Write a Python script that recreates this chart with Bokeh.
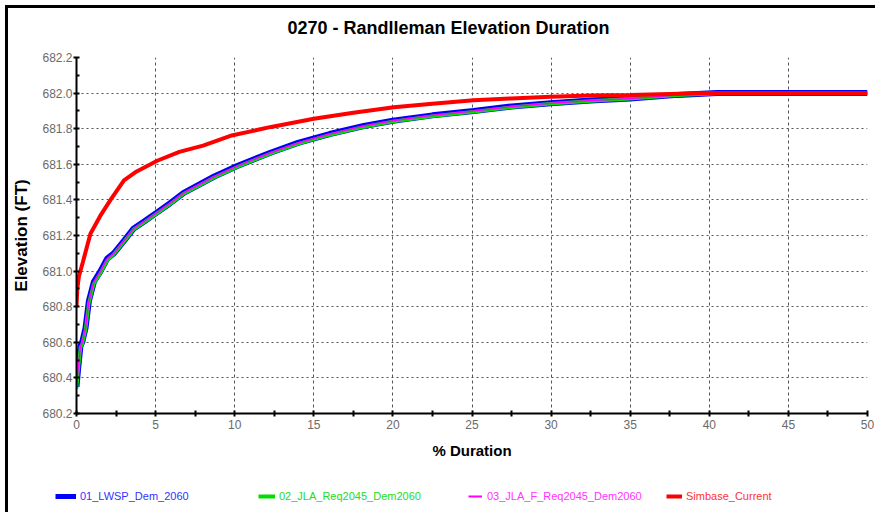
from bokeh.plotting import figure
from bokeh.models import (Range1d, FixedTicker, PrintfTickFormatter, Legend, LegendItem,
                          Title, Column)
from bokeh.embed import file_html
from bokeh.resources import INLINE

# ---- data ----
series_names = ["01_LWSP_Dem_2060", "02_JLA_Req2045_Dem2060",
                "03_JLA_F_Req2045_Dem2060", "Simbase_Current"]

dur_alt = [0, 0.1, 0.25, 0.36, 0.57, 0.78, 1.1, 1.52, 1.94, 2.36, 3.0, 3.62, 4.3,
           5.1, 5.9, 6.78, 8.68, 10.16, 12.26, 14.0, 16.0, 18.16, 20.0, 22.5, 25.1,
           27.5, 29.96, 32.5, 35.0, 38.0, 40.5, 45.0, 50.0]
elev_01 = [680.35, 680.45, 680.58, 680.60, 680.68, 680.83, 680.94, 681.00, 681.07,
           681.10, 681.17, 681.24, 681.28, 681.33, 681.38, 681.44, 681.53, 681.59,
           681.665, 681.72, 681.77, 681.815, 681.845, 681.875, 681.90, 681.925,
           681.943, 681.958, 681.97, 681.99, 682.0, 682.0, 682.0]
elev_02 = [680.34, 680.44, 680.57, 680.59, 680.67, 680.82, 680.93, 680.99, 681.06,
           681.095, 681.165, 681.235, 681.275, 681.325, 681.375, 681.435, 681.525,
           681.585, 681.66, 681.715, 681.765, 681.81, 681.84, 681.87, 681.895,
           681.92, 681.94, 681.955, 681.968, 681.988, 681.998, 681.998, 681.998]
elev_03 = [680.35, 680.45, 680.58, 680.60, 680.68, 680.83, 680.94, 681.00, 681.07,
           681.10, 681.17, 681.24, 681.28, 681.33, 681.38, 681.44, 681.53, 681.59,
           681.665, 681.72, 681.77, 681.815, 681.845, 681.875, 681.90, 681.925,
           681.943, 681.958, 681.97, 681.99, 682.0, 682.0, 682.0]

dur_base = [0, 0.05, 0.15, 0.4, 0.88, 1.5, 2.15, 3.0, 3.8, 4.68, 5.1, 6.5, 8.0, 9.73,
            12.3, 15.0, 17.5, 20.06, 22.5, 25.1, 27.5, 29.96, 32.5, 35.0, 37.5, 40.0,
            45.0, 50.0]
elev_base = [680.80, 680.90, 680.97, 681.05, 681.21, 681.31, 681.40, 681.51, 681.56,
             681.60, 681.62, 681.67, 681.705, 681.76, 681.81, 681.856, 681.89, 681.92,
             681.94, 681.96, 681.97, 681.98, 681.987, 681.99, 681.995, 682.0, 682.0,
             682.0]

y_ticks = [680.2, 680.4, 680.6, 680.8, 681.0, 681.2, 681.4, 681.6, 681.8, 682.0, 682.2]
y_minor = [680.3, 680.5, 680.7, 680.9, 681.1, 681.3, 681.5, 681.7, 681.9, 682.1]
x_ticks = [0, 5, 10, 15, 20, 25, 30, 35, 40, 45, 50]
x_minor = [2.5, 7.5, 12.5, 17.5, 22.5, 27.5, 32.5, 37.5, 42.5, 47.5]

series_colors = ["#0000ff", "#00dd00", "#ff00ff", "#ff0000"]
label_colors = ["#3333ff", "#22dd22", "#ff33ff", "#ff3333"]
series_widths = [6, 3.5, 1.5, 4]
legend_widths = [5, 4, 2, 4]

FONT = "Liberation Sans"

p = figure(width=867, height=470, output_backend="svg", toolbar_location=None,
           x_range=Range1d(0, 50), y_range=Range1d(680.2, 682.2),
           min_border_left=68, min_border_right=8, min_border_top=49,
           min_border_bottom=65)
p.outline_line_color = None
p.background_fill_color = "white"
p.border_fill_color = "white"

# spacer title (nearest the frame) then the real title above it
spacer = Title(text=" ", text_font=FONT, text_font_size="10px", standoff=5)
p.add_layout(spacer, "above")
t = Title(text="0270 - Randlleman  Elevation Duration", align="left", offset=211,
          text_font=FONT, text_font_size="18px", text_font_style="bold",
          text_color="black", standoff=4)
p.add_layout(t, "above")

r1 = p.line(dur_alt, elev_01, line_color=series_colors[0], line_width=series_widths[0])
r2 = p.line(dur_alt, elev_02, line_color=series_colors[1], line_width=series_widths[1])
r3 = p.line(dur_alt, elev_03, line_color=series_colors[2], line_width=series_widths[2])
r4 = p.line(dur_base, elev_base, line_color=series_colors[3], line_width=series_widths[3])

for ax in (p.xaxis[0], p.yaxis[0]):
    ax.axis_line_color = "black"
    ax.axis_line_width = 2
    ax.major_tick_line_color = "black"
    ax.major_tick_line_width = 2
    ax.minor_tick_line_color = "black"
    ax.minor_tick_line_width = 2
    ax.major_label_text_color = "#6a6a6a"
    ax.major_label_text_font = FONT
    ax.major_label_text_font_size = "12px"
    ax.axis_label_text_font = FONT
    ax.axis_label_text_font_style = "bold"
    ax.axis_label_text_color = "black"
    ax.major_tick_in = 3
    ax.major_tick_out = 3

p.xaxis.ticker = FixedTicker(ticks=x_ticks, minor_ticks=x_minor)
p.yaxis.ticker = FixedTicker(ticks=y_ticks, minor_ticks=y_minor)
p.yaxis.formatter = PrintfTickFormatter(format="%.1f")
p.xaxis.minor_tick_in = 3
p.xaxis.minor_tick_out = 3
p.yaxis.minor_tick_in = 3
p.yaxis.minor_tick_out = 0
p.xaxis.major_label_standoff = 3
p.yaxis.major_label_standoff = 1
p.xaxis.axis_label = "% Duration"
p.yaxis.axis_label = "Elevation (FT)"
p.xaxis.axis_label_text_font_size = "15px"
p.yaxis.axis_label_text_font_size = "17px"
p.xaxis.axis_label_standoff = 10
p.yaxis.axis_label_standoff = 8

p.xgrid.grid_line_color = "#555555"
p.xgrid.grid_line_dash = "3 3"
p.ygrid.grid_line_color = "#555555"
p.ygrid.grid_line_dash = "2 3"

# legend strip below the chart
lg = figure(width=867, height=34, output_backend="svg", toolbar_location=None,
            x_range=Range1d(0, 1), y_range=Range1d(0, 1),
            min_border_left=0, min_border_right=0, min_border_top=0,
            min_border_bottom=0)
lg.frame_align = False
lg.axis.visible = False
lg.grid.visible = False
lg.outline_line_color = None
lg.background_fill_color = "white"
lg.border_fill_color = "white"

leg_data = [(dur_alt, elev_01), (dur_alt, elev_02), (dur_alt, elev_03),
            (dur_base, elev_base)]
leg_x = [47, 250, 460, 658]
glyph_w = [21, 17, 14, 16]
standoffs = [4, 4, 5, 4]
for name, c, lc, w, lx, gw, so, (xs, ys) in zip(series_names, series_colors,
                                                label_colors, legend_widths, leg_x,
                                                glyph_w, standoffs, leg_data):
    # same series drawn in the legend strip; its values lie outside this strip's range
    proxy = lg.line(xs, ys, line_color=c, line_width=w)
    leg = Legend(items=[LegendItem(label=name, renderers=[proxy])], location=(lx, 9),
                 orientation="horizontal", label_text_color=lc,
                 label_text_font=FONT, label_text_font_size="11px",
                 glyph_width=gw, glyph_height=14, label_height=14, label_standoff=so,
                 padding=0, margin=0, border_line_alpha=0, background_fill_alpha=0)
    lg.add_layout(leg, "center")

layout = Column(p, lg, spacing=0,
                styles={"margin-left": "5px", "margin-top": "5px",
                        "border-left": "3px solid black",
                        "border-top": "3px solid black"})

open("out.html", "w").write(file_html(layout, INLINE))
